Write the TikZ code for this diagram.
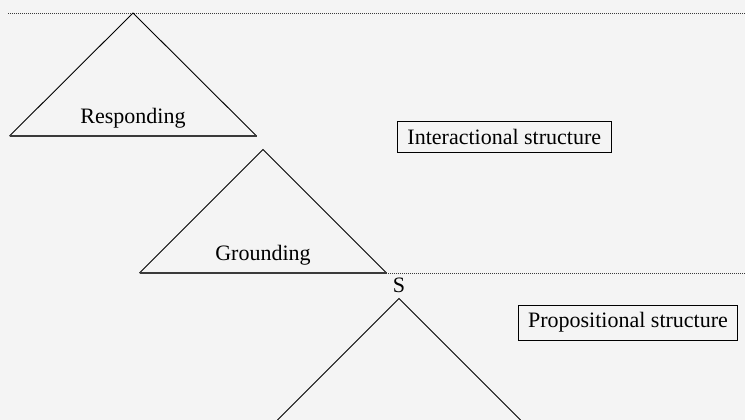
\documentclass[tikz,border=0pt]{standalone}
\usepackage{fontspec}
\setmainfont{Liberation Serif}
\definecolor{paper}{HTML}{F4F4F4}
\definecolor{rule}{HTML}{3A3A3A}
\begin{document}
\begin{tikzpicture}[x=1pt,y=-1pt,
    tri/.style={draw=black,line width=0.9pt,line join=miter},
    base/.style={draw=rule,line width=1.3pt},
    tier/.style={draw=rule,line width=0.9pt,dash pattern=on 1pt off 1pt},
    label/.style={font=\fontsize{22}{26}\selectfont,inner sep=0pt,anchor=base},
    layer/.style={draw=black,line width=0.9pt,font=\fontsize{22}{26}\selectfont,inner sep=2pt},
  ]
  % canvas
  \fill[paper] (0,0) rectangle (745,420);
  \useasboundingbox (0,0) rectangle (745,420);

  % tier boundaries
  \coordinate (t1a) at (8,13);
  \coordinate (t1b) at (745,13);
  \coordinate (t2a) at (386,273);
  \coordinate (t2b) at (745,273);
  \draw[tier] (t1a) -- (t1b);
  \draw[tier] (t2a) -- (t2b);

  % Responding subtree
  \coordinate (rTop) at (133,13);
  \coordinate (rL) at (9.5,136);
  \coordinate (rR) at (256.5,136);
  \draw[tri] (rL) -- (rTop) -- (rR);
  \draw[base] (rL) -- (rR);
  \node[label] (resp) at (133,123.3) {Responding};

  % Grounding subtree
  \coordinate (gTop) at (263,149.5);
  \coordinate (gL) at (139.5,273);
  \coordinate (gR) at (386.5,273);
  \draw[tri] (gL) -- (gTop) -- (gR);
  \draw[base] (gL) -- (gR);
  \node[label] (grnd) at (263,260) {Grounding};

  % sentence root
  \node[label] (s) at (399,292.7) {S};
  \coordinate (sTop) at (399,298.5);
  \coordinate (sL) at (277.5,420);
  \coordinate (sR) at (520.5,420);
  \draw[tri] (sL) -- (sTop) -- (sR);

  % layer labels
  \node[layer,minimum width=214pt,minimum height=30.3pt] (inter) at (504.3,136.9) {Interactional structure};
  \node[layer,minimum width=219.4pt,minimum height=35pt] (prop) at (628,322.5) {Propositional structure};
\end{tikzpicture}
\end{document}
